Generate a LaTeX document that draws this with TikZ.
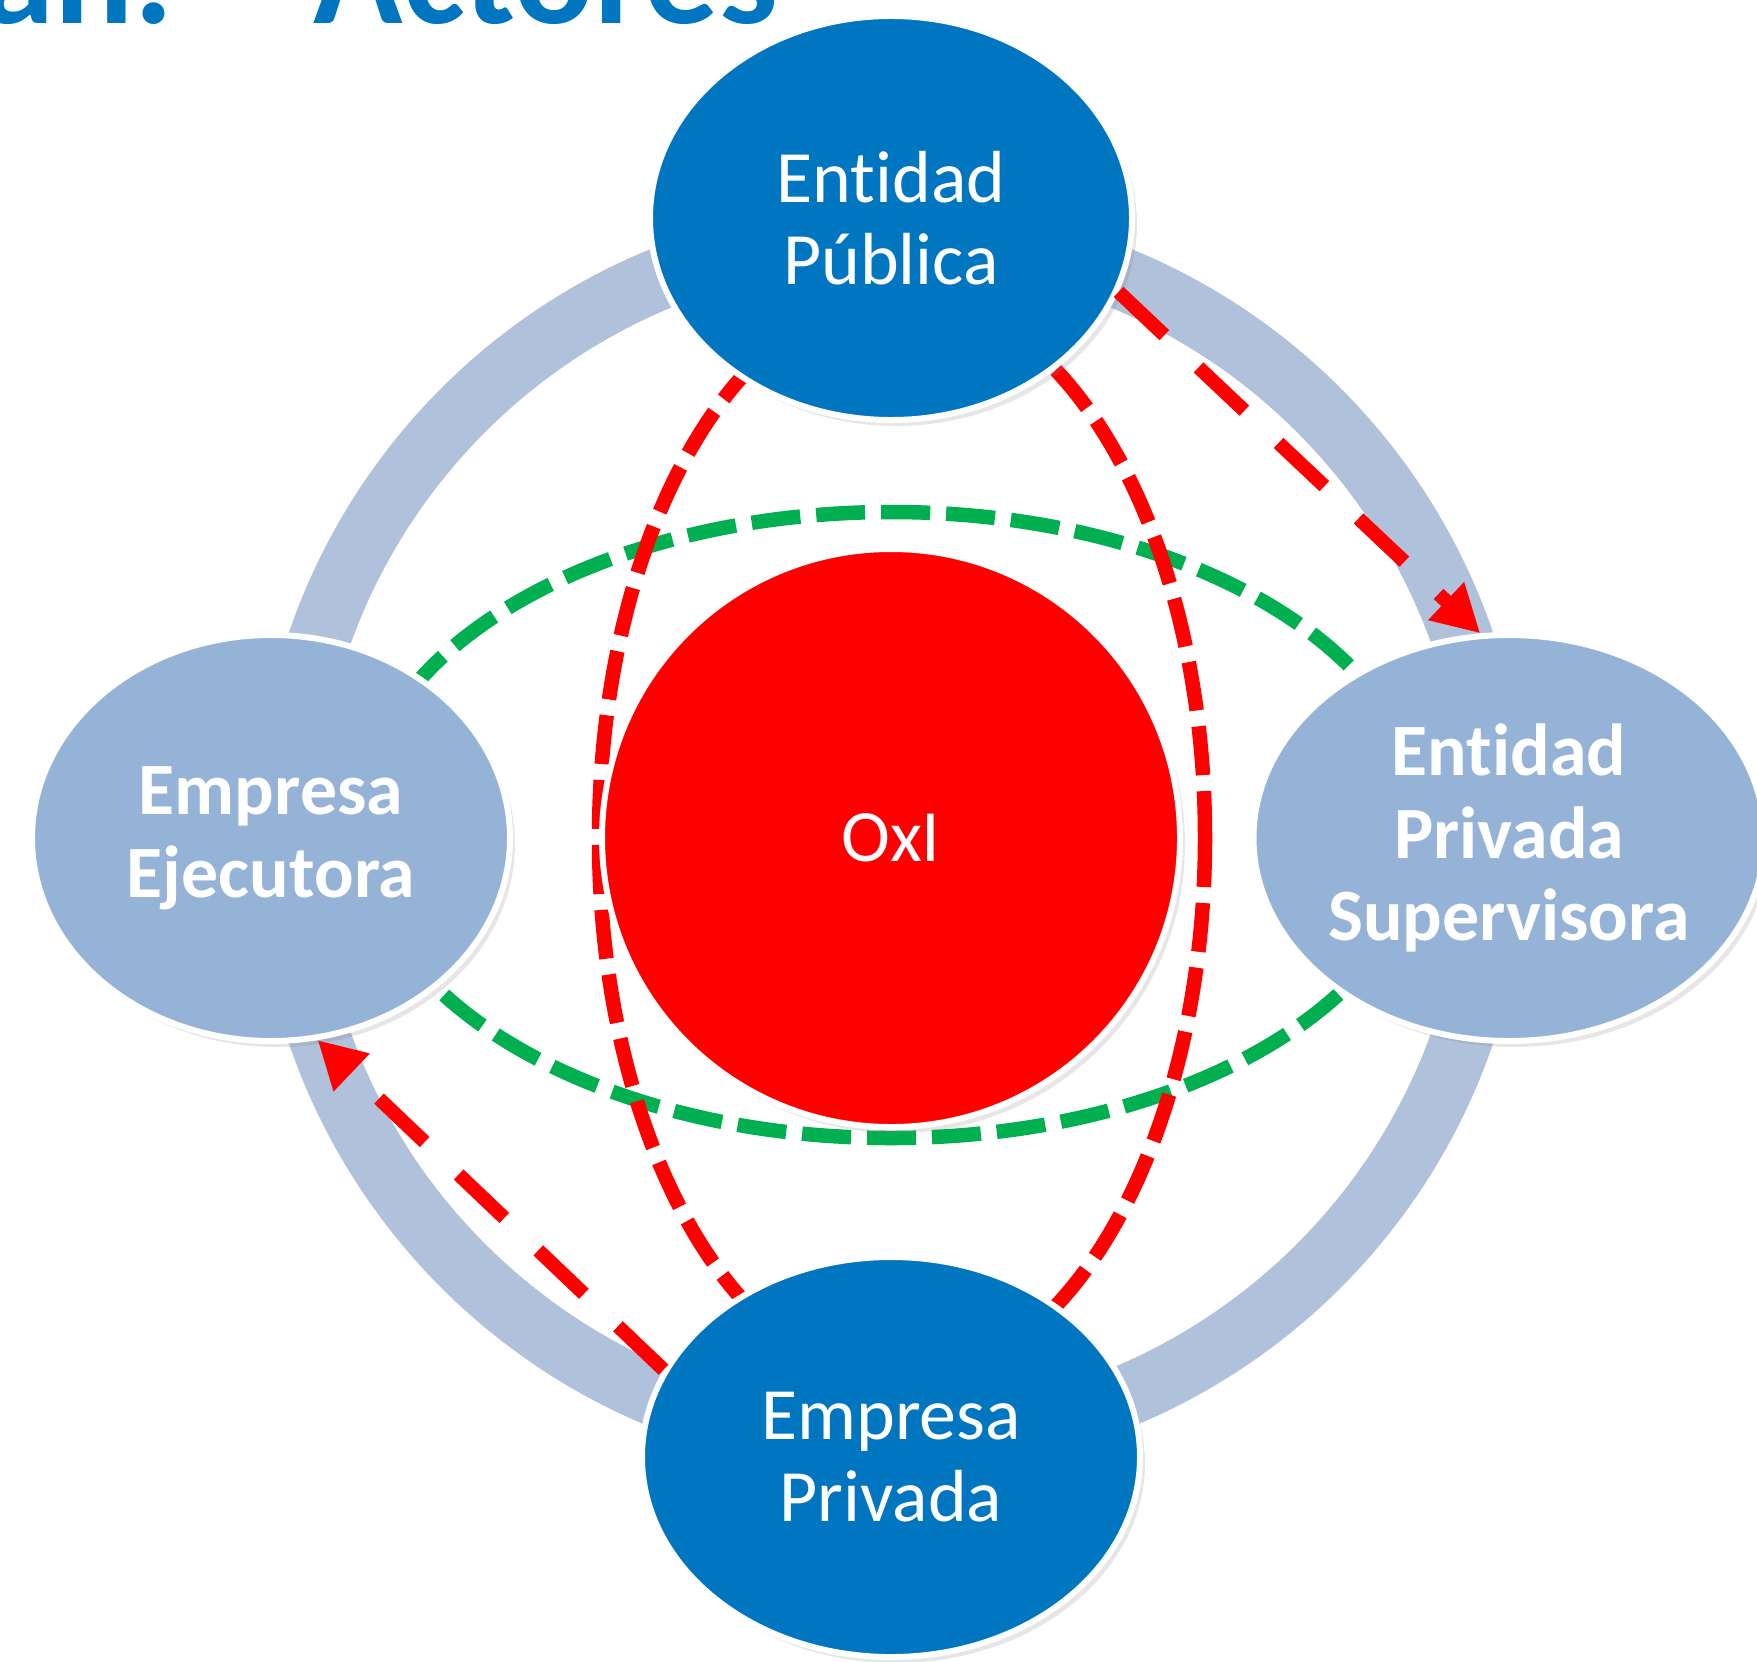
\documentclass[tikz,border=0pt]{standalone}
\usepackage{fontspec}
\setmainfont{Carlito}[Ligatures=NoCommon]
\usetikzlibrary{shapes.geometric,arrows.meta,shadows}
\definecolor{azul}{RGB}{0,118,192}
\definecolor{celeste}{RGB}{149,179,215}
\definecolor{anillo}{RGB}{176,193,219}
\definecolor{verde}{RGB}{0,176,80}
\definecolor{rojo}{RGB}{255,0,0}
\begin{document}
\begin{tikzpicture}[x=0.1mm,y=-0.1mm,
    actor/.style={ellipse,draw=white,line width=1.7pt,text=white,align=center,inner sep=0pt,
        font=\fontsize{21}{23.5}\selectfont,
        drop shadow={opacity=0.2,shadow xshift=0.5mm,shadow yshift=-0.6mm}},
    raya/.style={line width=1.45mm,dash pattern=on 4.9mm off 1.6mm},
    flecha/.style={rojo,line width=1.4mm,dash pattern=on 6.3mm off 4.7mm,-{Triangle[length=4.7mm,width=4.9mm]}},
    titulo/.style={text=azul,inner sep=0pt,font=\fontsize{42}{50}\selectfont\bfseries}]
    \useasboundingbox (0,0) rectangle (1757,1661);
    \clip (0,0) rectangle (1757,1661);
    \node (tit1) [titulo,anchor=base east] at (175,23) {an:};
    \node (tit2) [titulo,anchor=base west] at (313,23) {Actores};
    \coordinate (c) at (891,838);
    \draw[anillo,line width=6.2mm] (c) circle[radius=605];
    \draw[verde,raya] (891,825) ellipse[x radius=532,y radius=313];
    \draw[rojo,raya] (902,838) ellipse[x radius=303,y radius=543];
    \node (oxi) [circle,fill=rojo,draw=white,line width=1.7pt,minimum size=57.8mm,text=white,
        font=\fontsize{21}{23.5}\selectfont,drop shadow={opacity=0.2,shadow xshift=0.5mm,shadow yshift=-0.6mm}] at (c) {OxI};
    \node (pub) [actor,fill=azul,minimum width=48.2mm,minimum height=40.4mm] at (891,218) {Entidad\\Pública};
    \node (pri) [actor,fill=azul,minimum width=49.8mm,minimum height=40mm] at (891,1457) {Empresa\\Privada};
    \node (eje) [actor,fill=celeste,minimum width=47.8mm,minimum height=40.6mm,font=\fontsize{21}{23.5}\selectfont\bfseries] at (271,838) {Empresa\\Ejecutora};
    \node (sup) [actor,fill=celeste,minimum width=49mm,minimum height=40.6mm,font=\fontsize{21}{23.5}\selectfont\bfseries] at (1509,838) {Entidad\\Privada\\Supervisora};
    \draw[flecha] (pub.-18) -- (sup.98);
    \draw[flecha] (pri.159) -- (eje.-77);
\end{tikzpicture}
\end{document}
